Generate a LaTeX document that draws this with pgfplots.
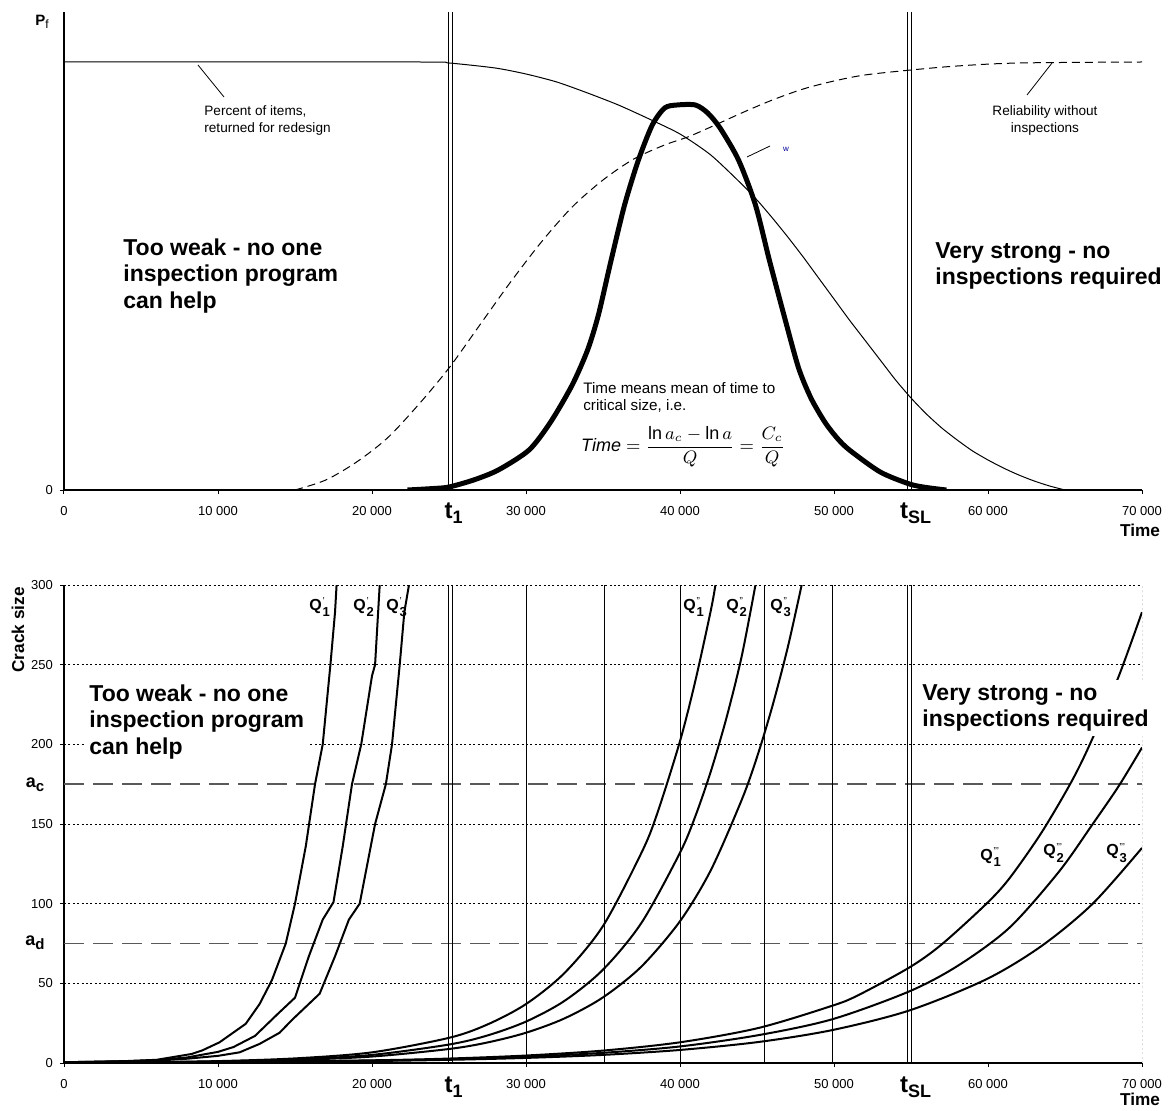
\documentclass[border=0pt]{standalone}
\usepackage{pgfplots}
\pgfplotsset{compat=1.18}
\usepackage{fontspec}
\setmainfont{Liberation Sans}
\setsansfont{Liberation Sans}
\newcommand{\fs}[1]{\fontsize{#1}{#1}\selectfont}
\newcommand{\Qlab}[2]{\textbf{Q}\kern0.4pt$^{\hbox{\fs{5}#1}}_{\hbox{\fs{6.5}\textbf{#2}}}$}
\newcommand{\tlab}[1]{\fs{12}\textbf{t}\raisebox{-0.4ex}{\fs{9}\textbf{#1}}}
\begin{document}
\begin{tikzpicture}
\useasboundingbox (0,0) rectangle (585pt,555pt);
\pgfplotsset{
  common/.style={
    scale only axis, width=539pt, height=239pt,
    xmin=0, xmax=70000,
    scaled x ticks=false, scaled y ticks=false,
    axis x line*=bottom, axis y line*=left,
    axis line style={-, line width=0.6pt, black},
    xtick={0,10000,20000,30000,40000,50000,60000,70000},
    xticklabels={0,10 000,20 000,30 000,40 000,50 000,60 000,70 000},
    tick align=outside, major tick length=2pt,
    tick style={black, line width=0.5pt},
    ticklabel style={font=\fs{6.5}},
    xticklabel style={yshift=-2.5pt},
    clip mode=individual,
  },
  vline/.style={black, line width=0.45pt, forget plot},
}
% ---------------- TOP ----------------
\begin{axis}[common, at={(32pt,310pt)}, anchor=south west,
  ymin=0, ymax=478, ytick={0}, yticklabels={0}]
\addplot[vline] coordinates {(24950,0)(24950,478)};
\addplot[vline] coordinates {(25200,0)(25200,478)};
\addplot[vline] coordinates {(54800,0)(54800,478)};
\addplot[vline] coordinates {(55050,0)(55050,478)};
% percent of items returned for redesign
\addplot[black, line width=0.5pt, smooth, tension=0.4] coordinates {(0,428)(23000,428)(25000,427)(28000,422)(30000,416)(32000,408)(34000,397)(36000,385)(38000,371)(40000,356)(42000,335)(44000,306)(45000,290)(46000,272)(47000,253)(48000,233)(49000,212)(50000,191)(51000,170)(52000,150)(53000,130)(54000,110)(55000,92)(56000,76)(57000,62)(58000,50)(59000,39)(60000,30)(61000,22)(62000,15)(63000,9)(64000,4)(65000,0)};
% reliability without inspections
\addplot[black, line width=0.5pt, dash pattern=on 4pt off 2.5pt, smooth] coordinates {(15000,0)(17000,10)(19000,28)(21000,52)(23000,85)(25000,122)(27000,165)(29000,208)(31000,248)(33000,283)(35000,310)(37000,331)(39000,345)(40500,353)(42000,363)(44000,377)(46000,390)(48000,401)(50000,409)(52000,415)(55000,420)(58000,424)(62000,427)(70000,428)};
% bell
\addplot[black, line width=2.5pt, smooth, tension=0.45] coordinates {(22300,0)(24000,1.5)(25000,3)(26600,10)(28200,20)(30200,40)(31600,68)(33000,105)(34000,140)(34700,175)(35500,228)(36400,285)(37300,330)(38200,365)(39000,382)(39800,385)(41000,385)(41800,377)(42600,362)(43800,330)(44900,285)(45800,230)(46800,172)(47700,122)(48500,92)(49400,68)(50200,52)(51000,40)(53000,18)(54900,6)(56000,2.5)(57300,0)};
% annotations
\node[anchor=center] at (axis cs:-1430,468) {\fs{7.5}\textbf{P}\raisebox{-0.45ex}{\fs{6}f}};
\draw[line width=0.4pt] (axis cs:8700,425) -- (axis cs:10390,393);
\node[anchor=north west, inner sep=0pt, align=left, font=\fontsize{6.8}{8.5}\selectfont] at (axis cs:9091,385) {Percent of items,\\returned for redesign};
\draw[line width=0.4pt] (axis cs:64156,427) -- (axis cs:62532,395);
\node[anchor=north, inner sep=0pt, align=center, font=\fontsize{6.8}{8.5}\selectfont] at (axis cs:63701,385) {Reliability without\\inspections};
\draw[line width=0.4pt] (axis cs:44351,333) -- (axis cs:45844,344);
\node[anchor=center, inner sep=0pt, text=blue!60!black] at (axis cs:46883,341) {\fs{4}w};
\node[anchor=north west, inner sep=0pt, align=left, font=\fontsize{11.5}{13.3}\selectfont\bfseries] at (axis cs:3831,252) {Too weak - no one\\inspection program\\can help};
\node[anchor=north west, inner sep=0pt, align=left, font=\fontsize{11.5}{13.3}\selectfont\bfseries] at (axis cs:56558,248) {Very strong - no\\inspections required};
\node[anchor=north west, inner sep=0pt, align=left, font=\fontsize{7.6}{8.5}\selectfont] at (axis cs:33701,108) {Time means mean of time to\\critical size, i.e.};
\node[anchor=center, inner sep=0pt] at (axis cs:40195,43) {\fs{9}$\mathit{Time}=\displaystyle\frac{\ln a_c-\ln a}{Q}=\frac{C_c}{Q}$};
\node[anchor=north, inner sep=0pt] at (axis cs:25300,-12) {\tlab{1}};
\node[anchor=north, inner sep=0pt] at (axis cs:55300,-12) {\tlab{SL}};
\node[anchor=center, inner sep=0pt] at (axis cs:69870,-40) {\fs{8.6}\textbf{Time}};
\end{axis}
% ---------------- BOTTOM ----------------
\begin{axis}[common, at={(32pt,23.5pt)}, anchor=south west,
  ymin=0, ymax=300, ytick={0,50,100,150,200,250,300}, yticklabels={0,50,100,150,200,250,300},
  ymajorgrids, grid style={black, line width=0.5pt, dash pattern=on 1pt off 1.2pt}]
\addplot[black, line width=0.5pt, dash pattern=on 1pt off 1.2pt, forget plot] coordinates {(70000,0)(70000,300)};
\addplot[black!65, line width=0.7pt, dash pattern=on 10pt off 4.5pt, forget plot] coordinates {(0,175)(70000,175)};
\addplot[black!65, line width=0.7pt, dash pattern=on 10pt off 4.5pt, forget plot] coordinates {(0,75)(70000,75)};
\addplot[vline] coordinates {(24950,0)(24950,300)};
\addplot[vline] coordinates {(25200,0)(25200,300)};
\addplot[vline] coordinates {(30000,0)(30000,300)};
\addplot[vline] coordinates {(35100,0)(35100,300)};
\addplot[vline] coordinates {(40000,0)(40000,300)};
\addplot[vline] coordinates {(45500,0)(45500,300)};
\addplot[vline] coordinates {(49900,0)(49900,300)};
\addplot[vline] coordinates {(54800,0)(54800,300)};
\addplot[vline] coordinates {(55050,0)(55050,300)};
% Q' curves
\addplot[black, line width=1pt] coordinates {(0,0.5)(2000,0.8)(4000,1.2)(6000,2)(8300,5.7)(9000,8)(10100,13)(11800,24.6)(12700,37)(13500,52)(14400,75)(15000,100)(15700,136)(16300,175)(16800,200)(17300,250)(17600,283)(17700,300)};
\addplot[black, line width=1pt] coordinates {(0,0.5)(2000,0.8)(4000,1.1)(6000,1.8)(8000,3.5)(10000,7)(11000,10)(12400,17)(13900,31)(15000,41)(15900,67)(16800,90)(17500,101)(18100,136)(18700,175)(19300,200)(20000,243)(20200,250)(20500,300)};
\addplot[black, line width=1pt] coordinates {(0,0.5)(2000,0.7)(4000,1)(6000,1.5)(8000,2.7)(10000,4.5)(11400,6.7)(12700,12)(14000,19)(14800,27)(16600,43.5)(17600,67)(18500,90)(19200,100)(20200,150)(20900,175)(21300,200)(21800,250)(22100,283)(22400,300)};
% Q'' curves
\addplot[black, line width=1pt, smooth] coordinates {(0,0.22)(5000,0.53)(10000,1.2)(15000,2.9)(20000,6.7)(25000,15.8)(27500,24.2)(30000,37)(32500,56.5)(35000,86)(37500,132)(38500,156)(40000,202)(41000,240)(42000,284)(42300,300)};
\addplot[black, line width=1pt, smooth] coordinates {(0,0.2)(5000,0.44)(10000,1)(15000,2.25)(20000,5.1)(25000,11.6)(27500,17.3)(30000,26)(32500,39)(35000,58.6)(37500,88)(40000,132)(41000,155)(42000,183)(43000,216)(44000,255)(44900,300)};
\addplot[black, line width=1pt, smooth] coordinates {(0,0.19)(5000,0.41)(10000,0.87)(15000,1.88)(20000,4.06)(25000,8.8)(27500,12.9)(30000,19)(32500,28)(35000,41.2)(37500,60.6)(40000,89)(42000,121)(44000,165)(45000,192)(46000,224)(47000,261)(47900,300)};
% Q''' curves
\addplot[black, line width=1pt, smooth] coordinates {(0,0.2)(10000,0.6)(20000,1.7)(25000,2.8)(30000,4.7)(35000,7.8)(40000,13)(45100,22)(49900,36)(51600,42.7)(54900,60)(57000,74.5)(59900,100)(61400,116)(63500,145)(65500,178)(66800,204)(68500,243)(70000,283)};
\addplot[black, line width=1pt, smooth] coordinates {(0,0.2)(10000,0.55)(20000,1.5)(25000,2.4)(30000,3.9)(35000,6.4)(40000,10.4)(45100,17.5)(49900,27.5)(54900,45)(58100,61.4)(61400,85)(64600,120)(66800,150)(68500,174)(70000,198)};
\addplot[black, line width=1pt, smooth] coordinates {(0,0.2)(10000,0.5)(20000,1.27)(25000,2)(30000,3.2)(35000,5.1)(40000,8.2)(45100,13.2)(49900,20.7)(54900,33)(59900,52.6)(63500,73.6)(66800,100)(70000,135)};
% labels
\node[anchor=north west, inner sep=2pt, fill=white, align=left, font=\fontsize{11.5}{13.3}\selectfont\bfseries] at (axis cs:1364,240.4) {Too weak - no one\\inspection program\\can help};
\node[anchor=north west, inner sep=2pt, fill=white, align=left, font=\fontsize{11.5}{13.3}\selectfont\bfseries] at (axis cs:55455,240.4) {Very strong - no\\inspections required};
\node[rotate=90, anchor=center, inner sep=0pt] at (axis cs:-2987,271.8) {\fs{8.6}\textbf{Crack size}};
\node[anchor=center, inner sep=0pt] at (axis cs:-1883,174.5) {\fs{9}\textbf{a}\raisebox{-0.45ex}{\fs{7.5}\textbf{c}}};
\node[anchor=center, inner sep=0pt] at (axis cs:-1883,75.3) {\fs{9}\textbf{a}\raisebox{-0.45ex}{\fs{7.5}\textbf{d}}};
\node[anchor=center, inner sep=0pt] at (axis cs:16623,286) {\fs{8}\Qlab{'}{1}};
\node[anchor=center, inner sep=0pt] at (axis cs:19481,286) {\fs{8}\Qlab{'}{2}};
\node[anchor=center, inner sep=0pt] at (axis cs:21623,286) {\fs{8}\Qlab{'}{3}};
\node[anchor=center, inner sep=0pt] at (axis cs:40909,286) {\fs{8}\Qlab{''}{1}};
\node[anchor=center, inner sep=0pt] at (axis cs:43701,286) {\fs{8}\Qlab{''}{2}};
\node[anchor=center, inner sep=0pt] at (axis cs:46558,286) {\fs{8}\Qlab{''}{3}};
\node[anchor=center, inner sep=0pt] at (axis cs:60200,129.3) {\fs{8}\Qlab{'''}{1}};
\node[anchor=center, inner sep=0pt] at (axis cs:64286,131.8) {\fs{8}\Qlab{'''}{2}};
\node[anchor=center, inner sep=0pt] at (axis cs:68377,131.8) {\fs{8}\Qlab{'''}{3}};
\node[anchor=north, inner sep=0pt] at (axis cs:25300,-8.5) {\tlab{1}};
\node[anchor=north, inner sep=0pt] at (axis cs:55300,-8.5) {\tlab{SL}};
\node[anchor=center, inner sep=0pt] at (axis cs:69870,-23) {\fs{8.6}\textbf{Time}};
\end{axis}
\end{tikzpicture}
\end{document}
